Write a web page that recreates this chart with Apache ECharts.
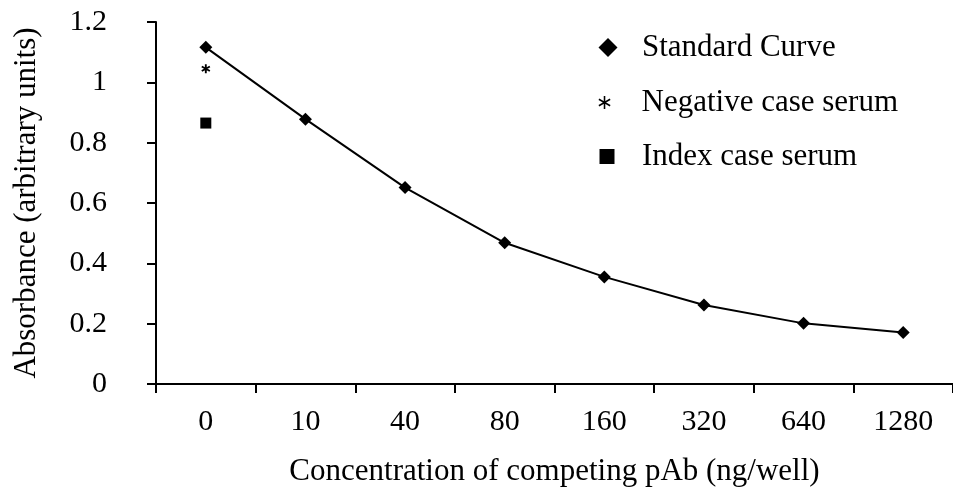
<!DOCTYPE html>
<html>
<head>
<meta charset="utf-8">
<script src="https://cdn.jsdelivr.net/npm/echarts@6/dist/echarts.min.js"></script>
<style>html,body{margin:0;padding:0;background:#fff}#c{width:953px;height:503px}</style>
</head>
<body>
<div id="c"></div>
<script>
var categories = ['0', '10', '40', '80', '160', '320', '640', '1280'];
var standardCurve = [1.116, 0.878, 0.651, 0.468, 0.355, 0.262, 0.201, 0.171];
var negativeCase = [[0, 1.045]];
var indexCase = [[0, 0.865]];
var yTicks = [0, 0.2, 0.4, 0.6, 0.8, 1, 1.2];

var STAR_BOLD = 'path://M40 0L60 0L60 100L40 100Z M88.3 16.3L98.3 33.7L11.7 83.7L1.7 66.3Z M1.7 33.7L11.7 16.3L98.3 66.3L88.3 83.7Z';
var STAR_THIN = 'path://M44 0L56 0L56 100L44 100Z M90.3 19.8L96.3 30.2L9.7 80.2L3.7 69.8Z M3.7 30.2L9.7 19.8L96.3 69.8L90.3 80.2Z';
var FONT = 'Liberation Serif';
var legendText = {fontFamily: FONT, fontSize: 31, color: '#000'};

function legendBox(name, icon, size, cx, top) {
  var left = cx - size / 2;
  return {
    orient: 'vertical',
    left: left, top: top,
    itemWidth: size, itemHeight: size,
    selectedMode: false,
    textStyle: Object.assign({padding: [0, 0, 0, 637 - (left + size) - 5]}, legendText),
    data: [{name: name, icon: icon}]
  };
}

var chart = echarts.init(document.getElementById('c'), null, {renderer: 'canvas'});
chart.setOption({
  animation: false,
  backgroundColor: '#fff',
  textStyle: {fontFamily: FONT, color: '#000'},
  grid: {left: 156, top: 22, width: 804, height: 362, containLabel: false},
  legend: [
    legendBox('Standard Curve', 'diamond', 19, 603, 27),
    legendBox('Negative case serum', STAR_THIN, 13, 600, 82),
    legendBox('Index case serum', 'rect', 15, 602, 136)
  ],
  xAxis: {
    type: 'category',
    data: categories,
    boundaryGap: true,
    name: 'Concentration of competing pAb (ng/well)',
    nameLocation: 'middle',
    nameGap: 72,
    nameTextStyle: {fontFamily: FONT, fontSize: 31, color: '#000'},
    axisLine: {lineStyle: {color: '#000', width: 2}},
    axisTick: {show: true, length: 9, lineStyle: {color: '#000', width: 2}},
    axisLabel: {fontFamily: FONT, fontSize: 30, color: '#000', margin: 23},
    splitLine: {show: false}
  },
  yAxis: {
    type: 'value',
    min: 0, max: 1.2, interval: 0.2,
    name: 'Absorbance (arbitrary units)',
    nameLocation: 'middle',
    nameGap: 114,
    nameRotate: 90,
    nameTextStyle: {fontFamily: FONT, fontSize: 31, color: '#000'},
    axisLine: {show: true, lineStyle: {color: '#000', width: 2}},
    axisTick: {show: true, length: 9, lineStyle: {color: '#000', width: 2}},
    axisLabel: {fontFamily: FONT, fontSize: 30, color: '#000', margin: 49, align: 'right'},
    splitLine: {show: false}
  },
  series: [
    {
      name: 'Standard Curve',
      type: 'line',
      data: standardCurve,
      symbol: 'diamond',
      symbolSize: 13,
      itemStyle: {color: '#000', opacity: 1},
      lineStyle: {color: '#000', width: 2}
    },
    {
      name: 'Negative case serum',
      type: 'scatter',
      data: negativeCase,
      symbol: STAR_BOLD,
      symbolSize: 9,
      itemStyle: {color: '#000', opacity: 1}
    },
    {
      name: 'Index case serum',
      type: 'scatter',
      data: indexCase,
      symbol: 'rect',
      symbolSize: 11,
      itemStyle: {color: '#000', opacity: 1}
    }
  ]
});
</script>
</body>
</html>
